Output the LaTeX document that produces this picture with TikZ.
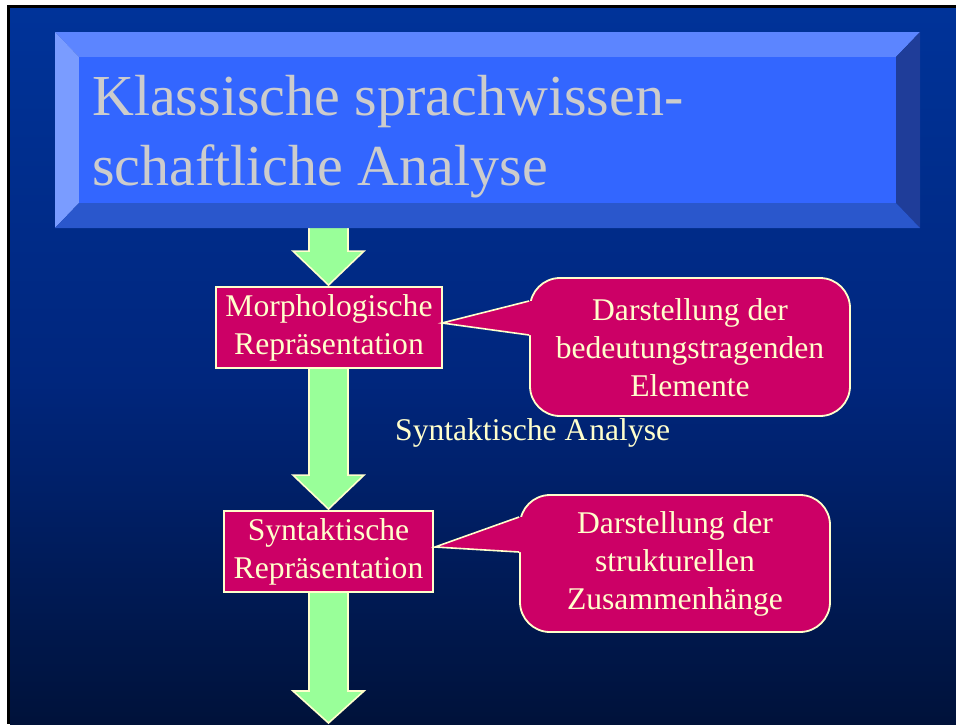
\documentclass[tikz,border=0pt]{standalone}
\usepackage{fontspec}
\setmainfont{Liberation Serif}
\usetikzlibrary{calc}
\definecolor{bgtop}{RGB}{0,51,153}
\definecolor{bgmid}{RGB}{0,38,125}
\definecolor{bgbot}{RGB}{0,18,58}
\definecolor{face}{RGB}{51,102,255}
\definecolor{bevtop}{RGB}{92,133,255}
\definecolor{bevleft}{RGB}{122,156,255}
\definecolor{bevright}{RGB}{31,61,153}
\definecolor{bevbot}{RGB}{42,87,204}
\definecolor{titlegray}{RGB}{204,204,204}
\definecolor{cream}{RGB}{255,255,204}
\definecolor{magenta}{RGB}{204,0,102}
\definecolor{mint}{RGB}{153,255,153}
\pgfdeclareverticalshading{bgshade}{100bp}{color(0bp)=(bgbot); color(25bp)=(bgbot); color(49bp)=(bgmid); color(75bp)=(bgtop); color(100bp)=(bgtop)}
\pgfdeclarelayer{bg}
\pgfsetlayers{bg,main}
\tikzset{
  boxnode/.style={draw=cream, line width=1.8pt, fill=magenta, text=cream, align=center, inner sep=0pt,
    font=\fontsize{31.6}{38}\selectfont},
  bubble/.style={draw=cream, line width=1.8pt, fill=magenta, rounded corners=30pt, inner sep=0pt},
  bubbletext/.style={text=cream, align=center, font=\fontsize{31.6}{38}\selectfont},
  blockarrow/.style={fill=mint},
  blockedge/.style={draw=cream, line width=1.6pt, line join=miter},
  titletext/.style={text=titlegray, anchor=base west, inner sep=0pt, font=\fontsize{58}{70}\selectfont},
}
\begin{document}
\begin{tikzpicture}[x=1pt,y=-1pt]
\useasboundingbox (0,0) rectangle (956,724);
\begin{pgfonlayer}{bg}
\fill[white] (0,0) rectangle (956,724);
\fill[black] (7,5) rectangle (956,724);
\shade[shading=bgshade] (10,8) rectangle (956,724);
\end{pgfonlayer}
% title bevel
\fill[bevtop] (55,32) -- (920,32) -- (896,57) -- (79,57) -- cycle;
\fill[bevleft] (55,32) -- (79,57) -- (79,203) -- (55,228) -- cycle;
\fill[bevright] (920,32) -- (920,228) -- (896,203) -- (896,57) -- cycle;
\fill[bevbot] (55,228) -- (79,203) -- (896,203) -- (920,228) -- cycle;
\fill[face] (79,57) rectangle (896,203);
\coordinate (titlebottom) at (328.5,228);
\node[titletext] (title1) at (92,115) {Klassische sprachwissen-};
\node[titletext] (title2) at (92,185) {schaftliche Analyse};
% boxes
\node[boxnode, minimum width=226pt, minimum height=81pt] (morph) at (329,327.5) {Morphologische\\Repräsentation};
\node[boxnode, minimum width=209pt, minimum height=81pt] (syn) at (328.5,551.5) {Syntaktische\\Repräsentation};
\coordinate (bottomend) at (328.5,724);
% label
\node[text=cream, anchor=base west, inner sep=0pt, font=\fontsize{31.6}{38}\selectfont] (analyse) at (395,440) {Syntaktische A\kern2pt nalyse};
% callout 1
\node[bubble, minimum width=320pt, minimum height=138pt] (call1) at (690,347) {};
\coordinate (tip1) at (442,323);
\fill[magenta] (tip1) -- ($(call1.west)+(0,-46)$) -- ($(call1.west)+(4,-46)$) -- ($(call1.west)+(4,-12)$) -- ($(call1.west)+(0,-12)$) -- cycle;
\draw[blockedge] ($(call1.west)+(0,-46)$) -- (tip1) -- ($(call1.west)+(0,-12)$);
\node[bubbletext] (call1text) at (690,348) {Darstellung der\\bedeutungstragenden\\Elemente};
% callout 2
\node[bubble, minimum width=310pt, minimum height=137pt] (call2) at (675,563.5) {};
\coordinate (tip2) at (435,547);
\fill[magenta] (tip2) -- ($(call2.west)+(0,-46.5)$) -- ($(call2.west)+(4,-46.5)$) -- ($(call2.west)+(4,-11.5)$) -- ($(call2.west)+(0,-11.5)$) -- cycle;
\draw[blockedge] ($(call2.west)+(0,-46.5)$) -- (tip2) -- ($(call2.west)+(0,-11.5)$);
\node[bubbletext] (call2text) at (675,564) {Darstellung der\\strukturellen\\Zusammenhänge};
% arrows (behind boxes)
\begin{pgfonlayer}{bg}
\foreach \a/\b/\hd in {titlebottom/morph.north/34, morph.south/syn.north/34, syn.south/bottomend/32}{
  \path let \p1=(\a), \p2=(\b) in
    coordinate (s1) at (309pt,\y1)
    coordinate (s2) at (309pt,\y2+\hd pt+1pt)
    coordinate (h1) at (293pt,\y2+\hd pt+1pt)
    coordinate (tp) at (328.5pt,\y2+1pt)
    coordinate (h2) at (364pt,\y2+\hd pt+1pt)
    coordinate (s3) at (348pt,\y2+\hd pt+1pt)
    coordinate (s4) at (348pt,\y1);
  \fill[blockarrow] (s1) -- (s2) -- (h1) -- (tp) -- (h2) -- (s3) -- (s4) -- cycle;
  \draw[blockedge] (s1) -- (s2) -- (h1) -- (tp) -- (h2) -- (s3) -- (s4);
}
\end{pgfonlayer}
\end{tikzpicture}
\end{document}
